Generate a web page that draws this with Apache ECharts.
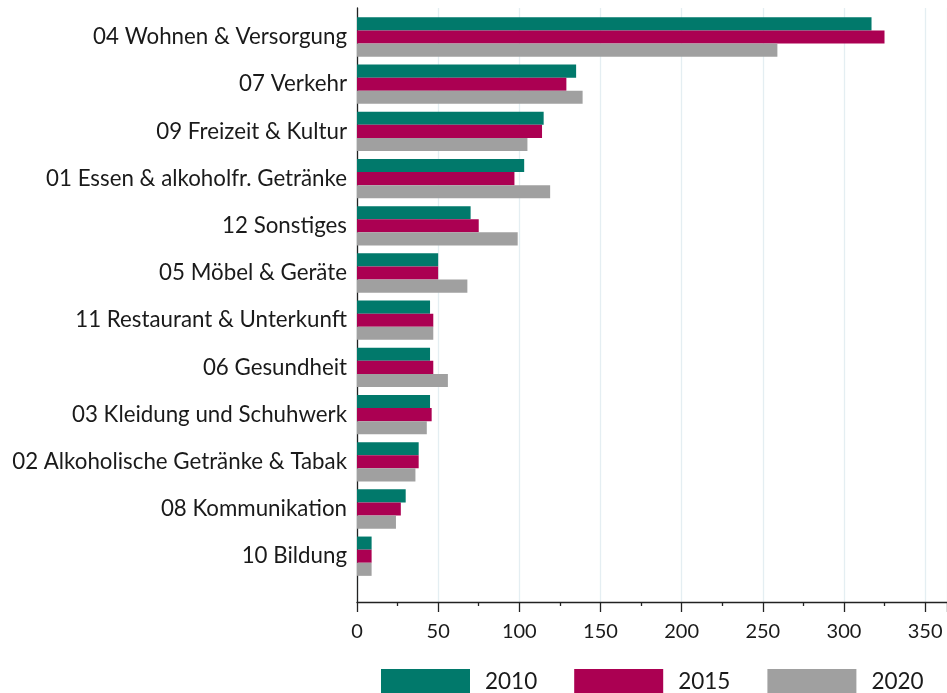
<!DOCTYPE html>
<html>
<head>
<meta charset="utf-8">
<script src="https://cdn.jsdelivr.net/npm/echarts@6/dist/echarts.min.js"></script>
<style>
  html, body { margin: 0; padding: 0; background: #ffffff; }
  #chart { width: 947px; height: 693px; }
</style>
</head>
<body>
<div id="chart"></div>
<script>
// Ausgabenkategorien (von oben nach unten)
const categories = [
  '04 Wohnen & Versorgung',
  '07 Verkehr',
  '09 Freizeit & Kultur',
  '01 Essen & alkoholfr. Getränke',
  '12 Sonstiges',
  '05 Möbel & Geräte',
  '11 Restaurant & Unterkunft',
  '06 Gesundheit',
  '03 Kleidung und Schuhwerk',
  '02 Alkoholische Getränke & Tabak',
  '08 Kommunikation',
  '10 Bildung'
];

const years = ['2010', '2015', '2020'];

const values2010 = [317, 135, 115, 103, 70, 50, 45, 45, 45, 38, 30, 9];
const values2015 = [325, 129, 114, 97, 75, 50, 47, 47, 46, 38, 27, 9];
const values2020 = [259, 139, 105, 119, 99, 68, 47, 56, 43, 36, 24, 9];

const xTicks = [0, 50, 100, 150, 200, 250, 300, 350];

const colors = ['#01796b', '#ab0052', '#a0a0a0'];
const FONT = 'Lato';
const X_MAX = 363.5;

const chart = echarts.init(document.getElementById('chart'), null, { renderer: 'canvas' });

const seriesValues = [values2010, values2015, values2020];

const option = {
  animation: false,
  backgroundColor: '#ffffff',
  textStyle: { fontFamily: FONT },
  grid: [
    // frame: axis lines, gridlines and tick labels
    { left: 357, right: 0, top: 8, bottom: 91, containLabel: false },
    // bars
    { left: 357, right: 0, top: 13.4, height: 566.4, containLabel: false }
  ],
  xAxis: [
    {
      gridIndex: 0,
      type: 'value',
      min: 0,
      max: X_MAX,
      interval: 50,
      axisLine: { show: true, lineStyle: { color: '#222', width: 1.3 } },
      axisTick: { show: true, length: 10, lineStyle: { color: '#222', width: 1.3 } },
      minorTick: { show: true, splitNumber: 2, length: 4, lineStyle: { color: '#222', width: 1.3 } },
      splitLine: { show: true, lineStyle: { color: '#e4eef2', width: 1.3 } },
      axisLabel: {
        show: true,
        margin: 20,
        fontFamily: FONT,
        fontSize: 20,
        color: '#1a1a1a',
        showMaxLabel: false,
        formatter: v => (xTicks.indexOf(v) >= 0 ? String(v) : '')
      }
    },
    {
      gridIndex: 1,
      type: 'value',
      min: 0,
      max: X_MAX,
      show: false
    }
  ],
  yAxis: [
    {
      gridIndex: 0,
      type: 'value',
      min: 0,
      max: 1,
      axisLine: { show: true, onZero: false, lineStyle: { color: '#222', width: 1.3 } },
      axisTick: { show: false },
      axisLabel: { show: false },
      splitLine: { show: false }
    },
    {
      gridIndex: 1,
      type: 'category',
      inverse: true,
      data: categories,
      axisLine: { show: false },
      axisTick: { show: false },
      splitLine: { show: false },
      axisLabel: {
        margin: 10,
        fontFamily: FONT,
        fontSize: 22.3,
        color: '#1a1a1a'
      }
    }
  ],
  legend: {
    data: years,
    left: 381,
    top: 669,
    padding: 0,
    itemWidth: 89,
    itemHeight: 26,
    itemGap: 37,
    icon: 'rect',
    textStyle: {
      fontFamily: FONT,
      fontSize: 22.5,
      color: '#1a1a1a',
      padding: [0, 0, 0, 10]
    }
  },
  series: years.map((y, i) => ({
    name: y,
    type: 'bar',
    xAxisIndex: 1,
    yAxisIndex: 1,
    data: seriesValues[i],
    barWidth: 13.1,
    barGap: '0%',
    itemStyle: { color: colors[i] }
  }))
};

chart.setOption(option);
</script>
</body>
</html>
